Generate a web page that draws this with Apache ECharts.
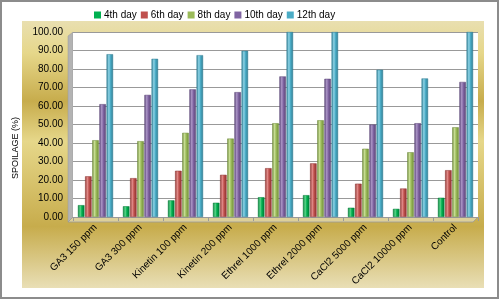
<!DOCTYPE html>
<html>
<head>
<meta charset="utf-8">
<script src="https://cdn.jsdelivr.net/npm/echarts@6/dist/echarts.min.js"></script>
<style>
  html, body { margin: 0; padding: 0; background: #fff; }
  #chart { width: 500px; height: 300px; }
</style>
</head>
<body>
<div id="chart"></div>
<script>
// 數據
const categories = ['GA3 150 ppm', 'GA3 300 ppm', 'Kinetin 100 ppm', 'Kinetin 200 ppm',
    'Ethrel 1000 ppm', 'Ethrel 2000 ppm', 'CaCl2 5000 ppm', 'CaCl2 10000 ppm', 'Control'];
const seriesNames = ['4th day', '6th day', '8th day', '10th day', '12th day'];
const day4 = [6.4, 5.8, 9.0, 7.7, 10.7, 11.8, 5.0, 4.4, 10.4];
const day6 = [22.0, 21.0, 25.0, 22.8, 26.4, 29.0, 18.0, 15.4, 25.3];
const day8 = [41.5, 41.0, 45.5, 42.4, 50.7, 52.3, 36.9, 35.0, 48.5];
const day10 = [61.0, 66.0, 69.0, 67.5, 76.0, 74.7, 50.0, 50.7, 73.0];
const day12 = [88.0, 85.5, 87.5, 89.8, 100.0, 100.0, 79.6, 74.9, 100.0];
const seriesData = [day4, day6, day8, day10, day12];
const colors = ['#00b050', '#c0504d', '#9bbb59', '#8064a2', '#4bacc6'];
const darkColors = ['#007a36', '#8c3330', '#6f8a3a', '#5a4576', '#2f7d92'];
const lightColors = ['#5ad68a', '#e08a88', '#c6dc93', '#ab95c6', '#8ed3e6'];

// 圓柱效果
function cylinder(i) {
    return new echarts.graphic.LinearGradient(0, 0, 1, 0, [
        { offset: 0, color: darkColors[i] },
        { offset: 0.35, color: lightColors[i] },
        { offset: 0.6, color: colors[i] },
        { offset: 1, color: darkColors[i] }
    ]);
}

const chart = echarts.init(document.getElementById('chart'));
chart.setOption({
    animation: false,
    textStyle: { fontFamily: 'Liberation Sans' },
    graphic: [
        { type: 'rect', z: -10, shape: { x: 1, y: 1, width: 497, height: 297 },
          style: { fill: '#fff', stroke: '#8c8c8c', lineWidth: 2 } },
        { type: 'rect', z: -9, shape: { x: 22, y: 21, width: 462, height: 267 },
          style: { fill: new echarts.graphic.LinearGradient(0, 0, 0, 1, [
              { offset: 0, color: '#e9dfb0' },
              { offset: 0.12, color: '#e6d78a' },
              { offset: 0.3, color: '#c7ac4c' },
              { offset: 0.45, color: '#e6d78a' },
              { offset: 0.77, color: '#c7ac4c' },
              { offset: 1, color: '#e9dfb6' }
          ]) } },
        // 3D 牆及地面
        { type: 'polygon', z: -8, shape: { points: [[68, 36], [73, 32], [73, 217], [68, 222]] },
          style: { fill: '#b3b3b3', stroke: '#9a9a9a', lineWidth: 0.5 } },
        { type: 'polygon', z: -8, shape: { points: [[68, 222], [73, 217], [478, 217], [473, 222]] },
          style: { fill: '#ddd09a', stroke: '#9a9a9a', lineWidth: 0.8 } },
        { type: 'text', left: 11, top: 117, rotation: Math.PI / 2,
          style: { text: 'SPOILAGE (%)', fontSize: 9, fill: '#000', fontFamily: 'Liberation Sans' } }
    ],
    legend: {
        data: seriesNames.map((n, i) => ({ name: n, itemStyle: { color: colors[i], borderWidth: 0 } })),
        left: 89,
        top: 5,
        itemWidth: 7,
        itemHeight: 7,
        itemGap: 4,
        icon: 'rect',
        textStyle: { fontSize: 10, color: '#000', padding: [0, 0, 0, -2] }
    },
    grid: { left: 73, right: 22, top: 32, bottom: 83, backgroundColor: '#fff', show: true, borderWidth: 0 },
    xAxis: {
        type: 'category',
        data: categories,
        axisLine: { lineStyle: { color: '#9a9a9a' } },
        axisTick: { show: true, lineStyle: { color: '#9a9a9a' }, length: 4 },
        axisLabel: { rotate: 45, fontSize: 10, color: '#000', interval: 0, margin: 9 }
    },
    yAxis: {
        type: 'value',
        min: 0,
        max: 100,
        interval: 10,
        axisLine: { show: false },
        axisTick: { show: false },
        axisLabel: { fontSize: 10, color: '#000', margin: 10, formatter: v => v.toFixed(2) },
        splitLine: { lineStyle: { color: '#999999', width: 1 } }
    },
    series: seriesData.map((d, i) => ({
        name: seriesNames[i],
        type: 'bar',
        data: d,
        barWidth: 6.5,
        barGap: '10%',
        itemStyle: { color: cylinder(i), borderColor: darkColors[i], borderWidth: 0.5 }
    })),
    color: colors
});
</script>
</body>
</html>
